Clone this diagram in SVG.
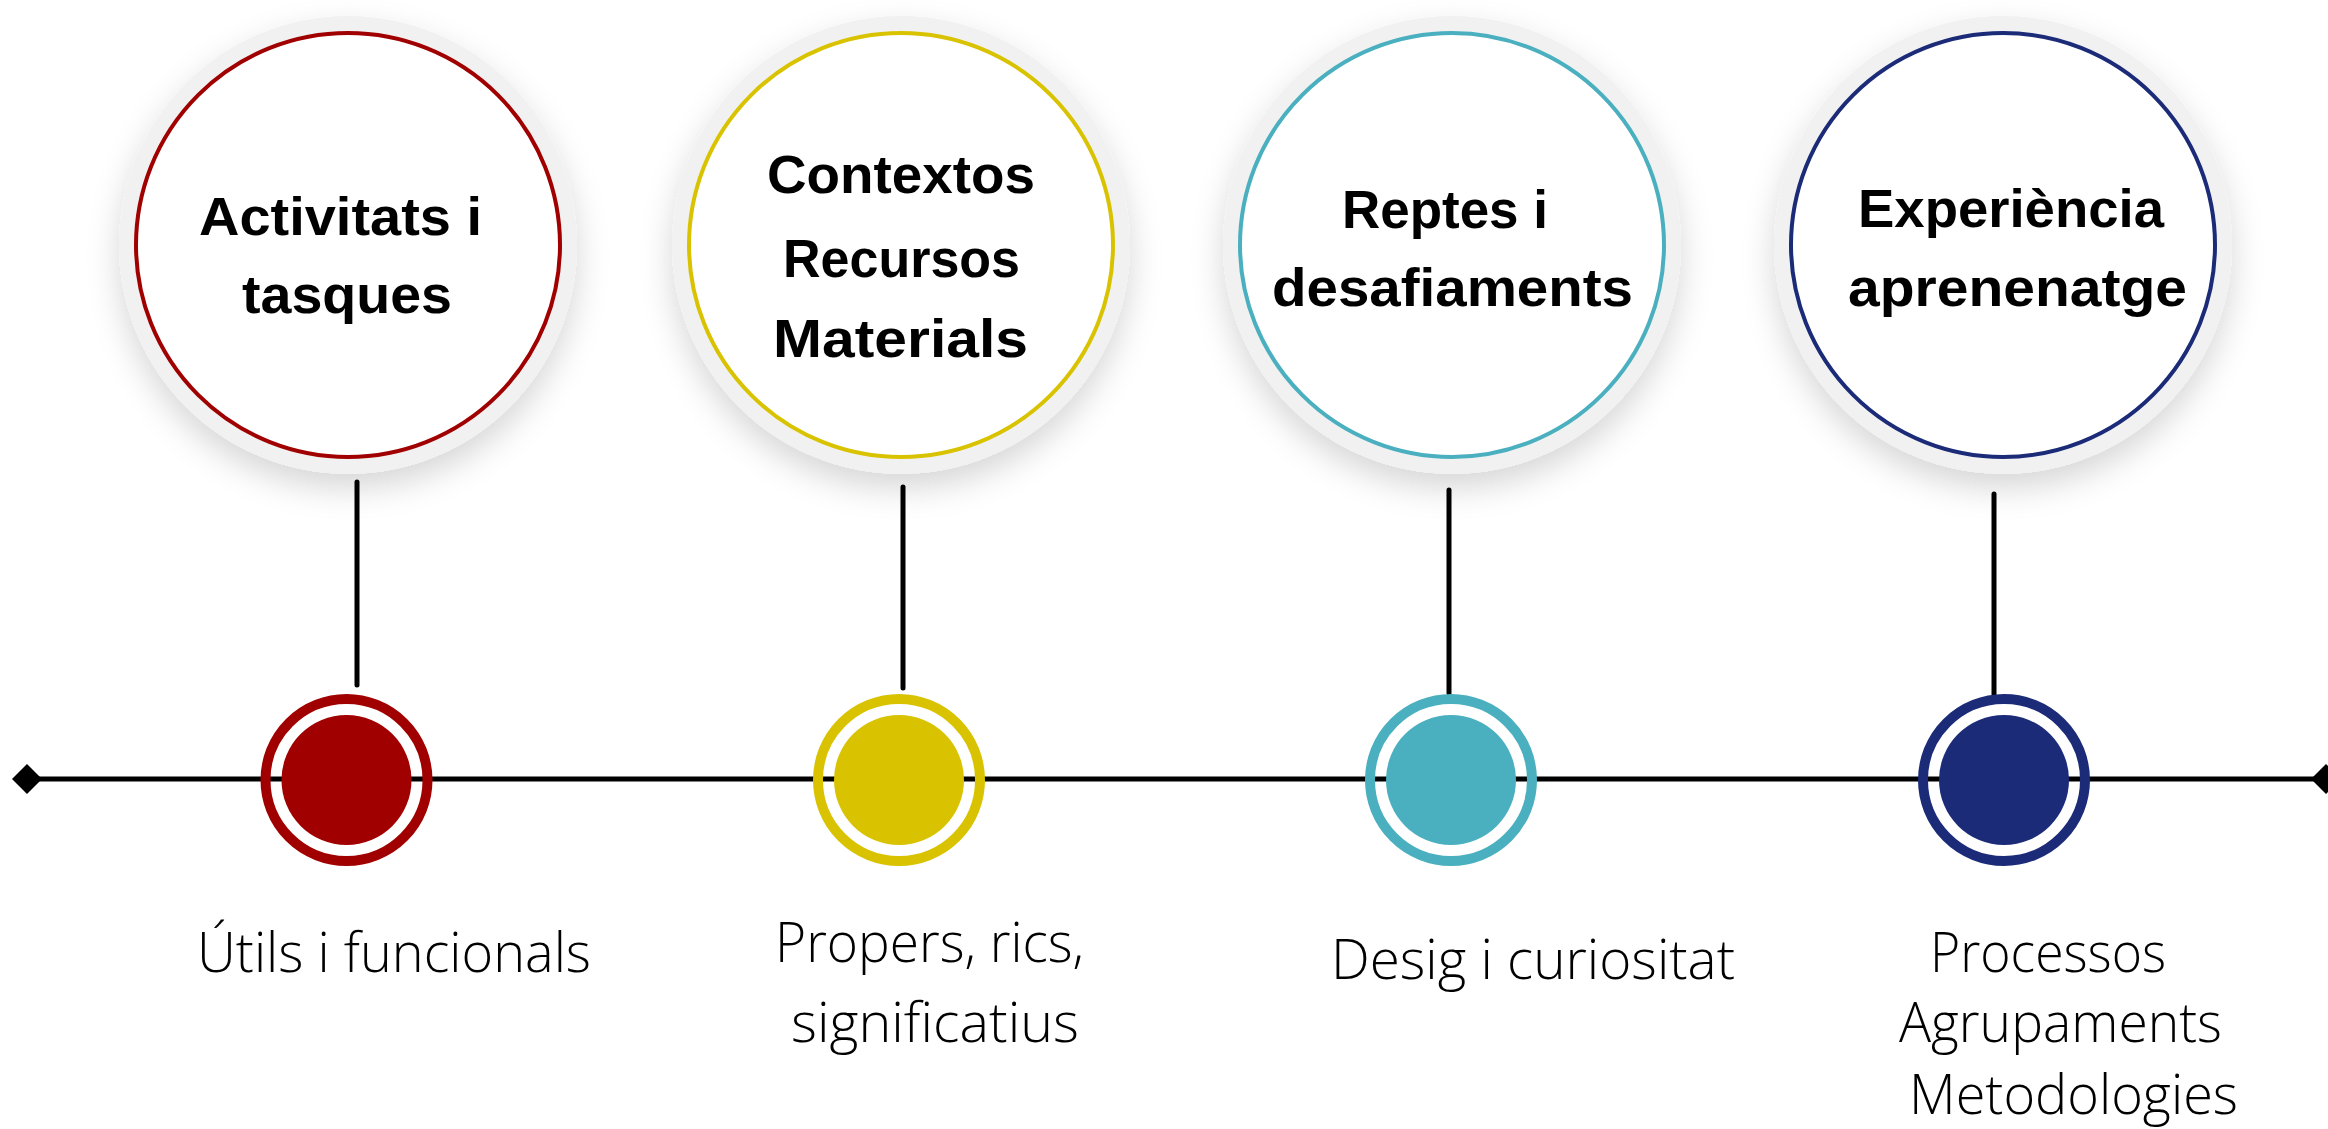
<svg xmlns="http://www.w3.org/2000/svg" width="2328" height="1129" viewBox="0 0 2328 1129">
<defs>
<filter id="shadow" x="-30%" y="-30%" width="160%" height="170%">
<feDropShadow dx="0" dy="14" stdDeviation="16" flood-color="#000" flood-opacity="0.16"/>
</filter>
<style>
.halo{fill:#f1f1f1;filter:url(#shadow)}
.big{fill:#fff;stroke-width:4}
.ring{fill:none;stroke-width:10}
.conn{stroke:#000;stroke-width:5;stroke-linecap:round;fill:none}
.title{font-family:"Liberation Sans","Open Sans",sans-serif;font-weight:700;font-size:54px;fill:#000}
.desc{font-family:"Open Sans","Lato",sans-serif;font-weight:300;font-size:55px;fill:#000}
</style>
</defs>
<rect width="2328" height="1129" fill="#fff"/>
<g id="connectors">
<line class="conn" x1="27" y1="779" x2="2326" y2="779"/>
<polygon points="12,779 27,764 42,779 27,794" fill="#000"/>
<polygon points="2311,779 2326,764 2341,779 2326,794" fill="#000"/>
<line class="conn" x1="357" y1="482" x2="357" y2="685"/>
<line class="conn" x1="903" y1="487" x2="903" y2="688"/>
<line class="conn" x1="1449" y1="490" x2="1449" y2="693"/>
<line class="conn" x1="1994" y1="494" x2="1994" y2="695"/>
</g>
<g id="node1">
<circle class="halo" cx="348" cy="245" r="229"/>
<circle class="big" cx="348" cy="245" r="212" stroke="#A00000"/>
<text class="title" x="199" y="235" textLength="283" lengthAdjust="spacingAndGlyphs">Activitats i</text>
<text class="title" x="242" y="313" textLength="210" lengthAdjust="spacingAndGlyphs">tasques</text>
<circle class="ring" cx="346.5" cy="780" r="81" stroke="#A00000"/>
<circle cx="346.5" cy="780" r="65" fill="#A00000"/>
<text class="desc" x="197" y="972" textLength="394" lengthAdjust="spacingAndGlyphs">Útils i funcionals</text>
</g>
<g id="node2">
<circle class="halo" cx="901" cy="245" r="229"/>
<circle class="big" cx="901" cy="245" r="212" stroke="#D9C300"/>
<text class="title" x="767" y="193" textLength="268" lengthAdjust="spacingAndGlyphs">Contextos</text>
<text class="title" x="783" y="277" textLength="237" lengthAdjust="spacingAndGlyphs">Recursos</text>
<text class="title" x="773" y="357" textLength="255" lengthAdjust="spacingAndGlyphs">Materials</text>
<circle class="ring" cx="899" cy="780" r="81" stroke="#D9C300"/>
<circle cx="899" cy="780" r="65" fill="#D9C300"/>
<text class="desc" x="775" y="962" textLength="309" lengthAdjust="spacingAndGlyphs">Propers, rics,</text>
<text class="desc" x="791" y="1042" textLength="288" lengthAdjust="spacingAndGlyphs">significatius</text>
</g>
<g id="node3">
<circle class="halo" cx="1452" cy="245" r="229"/>
<circle class="big" cx="1452" cy="245" r="212" stroke="#4AAFBF"/>
<text class="title" x="1342" y="228" textLength="206" lengthAdjust="spacingAndGlyphs">Reptes i</text>
<text class="title" x="1272" y="306" textLength="361" lengthAdjust="spacingAndGlyphs">desafiaments</text>
<circle class="ring" cx="1451" cy="780" r="81" stroke="#4AAFBF"/>
<circle cx="1451" cy="780" r="65" fill="#4AAFBF"/>
<text class="desc" x="1331" y="979" textLength="404" lengthAdjust="spacingAndGlyphs">Desig i curiositat</text>
</g>
<g id="node4">
<circle class="halo" cx="2003" cy="245" r="229"/>
<circle class="big" cx="2003" cy="245" r="212" stroke="#1B2B78"/>
<text class="title" x="1858" y="227" textLength="306" lengthAdjust="spacingAndGlyphs">Experiència</text>
<text class="title" x="1848" y="306" textLength="339" lengthAdjust="spacingAndGlyphs">aprenenatge</text>
<circle class="ring" cx="2004" cy="780" r="81" stroke="#1B2B78"/>
<circle cx="2004" cy="780" r="65" fill="#1B2B78"/>
<text class="desc" x="1930" y="972" textLength="236" lengthAdjust="spacingAndGlyphs">Processos</text>
<text class="desc" x="1899" y="1042" textLength="323" lengthAdjust="spacingAndGlyphs">Agrupaments</text>
<text class="desc" x="1909" y="1114" textLength="329" lengthAdjust="spacingAndGlyphs">Metodologies</text>
</g>
</svg>
